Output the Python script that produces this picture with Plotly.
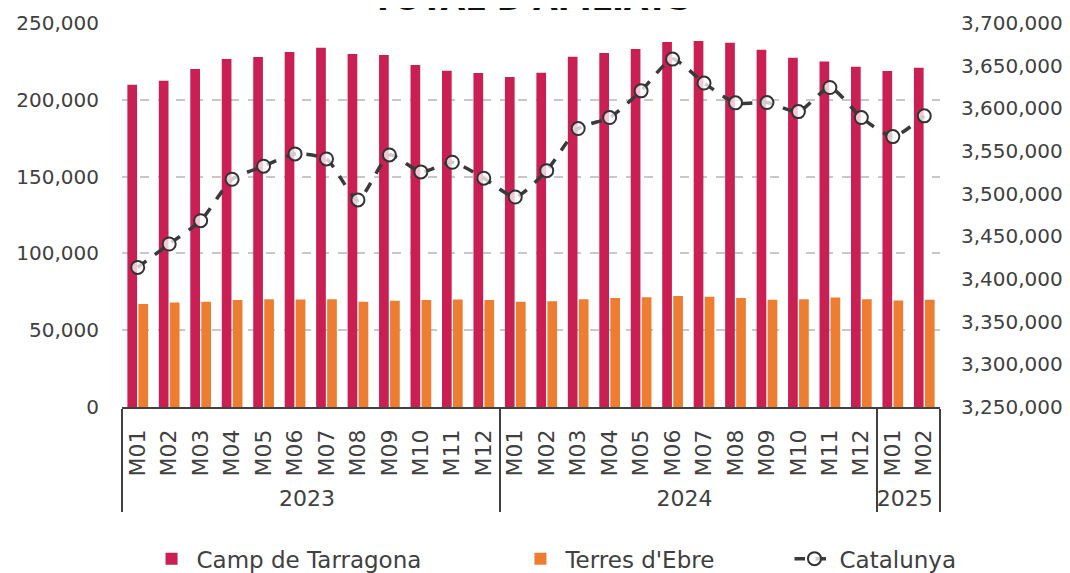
import plotly.graph_objects as go

years = ["2023"] * 12 + ["2024"] * 12 + ["2025"] * 2
months = ["M01", "M02", "M03", "M04", "M05", "M06", "M07", "M08", "M09", "M10", "M11", "M12",
          "M01", "M02", "M03", "M04", "M05", "M06", "M07", "M08", "M09", "M10", "M11", "M12",
          "M01", "M02"]

camp_tarragona = [209800, 212400, 220000, 226500, 227800, 231100, 233900, 229800, 229100, 222600, 218900, 217400,
                  214800, 217600, 228100, 230500, 233100, 237600, 238300, 237200, 232600, 227400, 225000, 221500,
                  218700, 220900]
terres_ebre = [67000, 68100, 68500, 69600, 70200, 70000, 70200, 68500, 69100, 69600, 70000, 69600,
               68500, 68900, 70200, 70900, 71500, 72200, 71700, 70900, 69800, 70200, 71300, 70200,
               69400, 69800]
catalunya = [3413600, 3441000, 3468300, 3516900, 3532200, 3546600, 3540700, 3492600, 3545400, 3525500, 3536800, 3518100,
             3496100, 3527000, 3576300, 3589200, 3620500, 3657700, 3629600, 3606400, 3606800, 3596200, 3624400, 3589200,
             3566900, 3591200]

title_text = "TOTAL D'AFILIATS"
FONT = "DejaVu Sans"
TXT = "#404040"

x = [years, months]

fig = go.Figure()
fig.add_trace(go.Bar(x=x, y=camp_tarragona, name="Camp de Tarragona", marker_color="#C91F52",
                     marker_line_width=0, legend="legend"))
fig.add_trace(go.Bar(x=x, y=terres_ebre, name="Terres d'Ebre", marker_color="#ED7D31",
                     marker_line_width=0, legend="legend2"))
fig.add_trace(go.Scatter(x=x, y=catalunya, name="Catalunya", yaxis="y2", mode="lines+markers",
                         line=dict(color="#3A3A3A", width=3.5, dash="dash", shape="spline", smoothing=0.6),
                         marker=dict(symbol="circle", size=13, color="rgba(255,255,255,0.75)",
                                     line=dict(color="#333333", width=2)),
                         legend="legend3"))

leg_common = dict(orientation="h", y=-0.395, yanchor="middle", xanchor="left",
                  font=dict(size=23, color=TXT, family=FONT), itemwidth=40, bgcolor="rgba(0,0,0,0)")

fig.update_layout(
    width=1070, height=573,
    margin=dict(l=114, r=138, t=15, b=174, autoexpand=False),
    paper_bgcolor="white", plot_bgcolor="white",
    barmode="group", bargap=0.3, bargroupgap=0.12,
    font=dict(family=FONT, color=TXT, size=19),
    showlegend=True,
    legend=dict(x=0.03, **leg_common),
    legend2=dict(x=0.481, **leg_common),
    legend3=dict(x=0.816, **leg_common),
    xaxis=dict(type="multicategory", tickangle=-90, showline=True, linecolor="#404040", linewidth=1.5,
               showdividers=True, dividercolor="#404040", dividerwidth=1.5, automargin=False,
               range=[-0.5, 25.5], ticklabelstandoff=12,
               tickfont=dict(size=22, color=TXT), showgrid=False, ticks=""),
    yaxis=dict(range=[0, 250000], dtick=50000, tickformat=",d", showgrid=True, automargin=False,
               gridcolor="#c8c8c8", griddash="dash", gridwidth=1.5, zeroline=False,
               showline=False, tickfont=dict(size=20, color=TXT), ticklabelstandoff=22),
    yaxis2=dict(range=[3250000, 3700000], dtick=50000, tickformat=",d", overlaying="y", side="right",
                showgrid=False, zeroline=False, showline=False, tickfont=dict(size=20, color=TXT),
                ticklabelstandoff=20, automargin=False),
    annotations=[dict(text="<b>" + title_text + "</b>", xref="paper", yref="paper", x=0.5, y=1.0 + 3 / 384,
                      xanchor="center", yanchor="bottom", showarrow=False,
                      font=dict(size=32, color="#111111", family=FONT))],
)

fig.write_html("out.html")
